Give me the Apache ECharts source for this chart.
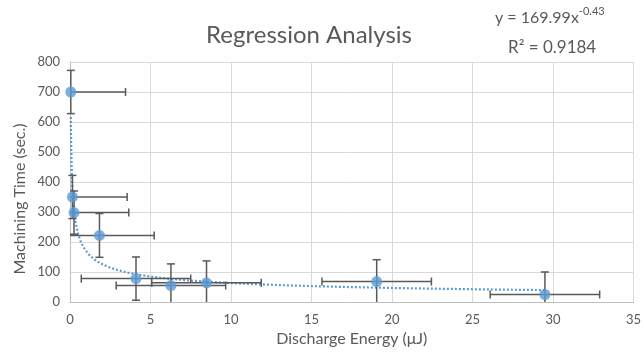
<!DOCTYPE html>
<html>
<head>
<meta charset="utf-8">
<script src="https://cdn.jsdelivr.net/npm/echarts@6/dist/echarts.min.js"></script>
<style>
  html, body { margin: 0; padding: 0; background: #fff; }
  #chart { width: 644px; height: 352px; }
</style>
</head>
<body>
<div id="chart"></div>
<script>
// values
const energy = [0.05, 0.15, 0.25, 1.83, 4.1, 6.27, 8.48, 19.05, 29.5];
const machTime = [700, 350, 298, 222, 78, 55, 64, 68, 25];
const energyErr = [3.4, 3.4, 3.4, 3.4, 3.4, 3.4, 3.4, 3.4, 3.4];
const timeErr = [72, 72, 72, 73, 72, 72, 73, 73, 75];

// power trendline as printed on the chart
const fitA = 169.99;
const fitB = -0.43;
const fitR2 = 0.9184;

const xTicks = [0, 5, 10, 15, 20, 25, 30, 35];
const yTicks = [0, 100, 200, 300, 400, 500, 600, 700, 800];

const xMin = xTicks[0], xMax = xTicks[xTicks.length - 1];
const yMin = yTicks[0], yMax = yTicks[yTicks.length - 1];

const textColor = "#595959";
const font = "Lato, 'Liberation Sans', sans-serif";

const points = energy.map((x, i) => [x, machTime[i]]);
const errRows = energy.map((x, i) => [x, machTime[i], energyErr[i], timeErr[i]]);

// trendline sampled between smallest and largest energy
const xLo = Math.min(...energy), xHi = Math.max(...energy);
const trend = [];
for (let k = 0; k <= 300; k++) {
  const x = xLo * Math.pow(xHi / xLo, k / 300);
  trend.push([x, fitA * Math.pow(x, fitB)]);
}

function errorBars(params, api) {
  const x = api.value(0), y = api.value(1), dx = api.value(2), dy = api.value(3);
  const clampX = (v) => Math.min(xMax, Math.max(xMin, v));
  const clampY = (v) => Math.min(yMax, Math.max(yMin, v));
  const style = { stroke: "#595959", lineWidth: 1.5 };
  const cap = 4;
  const children = [];
  const c = api.coord([x, y]);
  const left = api.coord([clampX(x - dx), y]);
  const right = api.coord([clampX(x + dx), y]);
  const top = api.coord([x, clampY(y + dy)]);
  const bottom = api.coord([x, clampY(y - dy)]);
  children.push({ type: "line", shape: { x1: left[0], y1: c[1], x2: right[0], y2: c[1] }, style });
  children.push({ type: "line", shape: { x1: c[0], y1: top[1], x2: c[0], y2: bottom[1] }, style });
  if (x - dx >= xMin) children.push({ type: "line", shape: { x1: left[0], y1: c[1] - cap, x2: left[0], y2: c[1] + cap }, style });
  if (x + dx <= xMax) children.push({ type: "line", shape: { x1: right[0], y1: c[1] - cap, x2: right[0], y2: c[1] + cap }, style });
  if (y + dy <= yMax) children.push({ type: "line", shape: { x1: c[0] - cap, y1: top[1], x2: c[0] + cap, y2: top[1] }, style });
  if (y - dy >= yMin) children.push({ type: "line", shape: { x1: c[0] - cap, y1: bottom[1], x2: c[0] + cap, y2: bottom[1] }, style });
  return { type: "group", children };
}

const chart = echarts.init(document.getElementById("chart"), null, { renderer: "canvas" });

const axisCommon = {
  axisLine: { show: true, lineStyle: { color: "#bfbfbf", width: 1 } },
  axisTick: { show: false },
  splitLine: { show: true, lineStyle: { color: "#d9d9d9", width: 1 } },
  axisLabel: { color: textColor, fontSize: 13, fontFamily: font },
};

chart.setOption({
  animation: false,
  backgroundColor: "#fff",
  textStyle: { fontFamily: font },
  title: {
    text: "Regression Analysis",
    left: 304,
    top: 18,
    textAlign: "center",
    textStyle: { color: textColor, fontSize: 24, fontWeight: "normal", fontFamily: font },
  },
  graphic: [
    {
      type: "text",
      left: 495,
      top: 6,
      style: {
        text: "{b|y = 169.99x}{s|" + fitB.toFixed(2) + "}",
        rich: {
          b: { fontSize: 16, fill: textColor, fontFamily: font, verticalAlign: "bottom", lineHeight: 20 },
          s: { fontSize: 11, fill: textColor, fontFamily: font, verticalAlign: "top", lineHeight: 20, padding: [0, 0, 8, 0] },
        },
      },
    },
    {
      type: "text",
      left: 508,
      top: 39,
      style: { text: "R² = " + fitR2, fontSize: 17, fill: textColor, fontFamily: font },
    },
    {
      // y axis title, placed like the reference (a bit below the plot middle)
      type: "text",
      x: 20,
      y: 199,
      rotation: Math.PI / 2,
      style: {
        text: "Machining Time (sec.)",
        fontSize: 16,
        fill: textColor,
        fontFamily: font,
        align: "center",
        verticalAlign: "middle",
      },
    },
  ],
  grid: { left: 70, right: 9, top: 62, bottom: 50 },
  xAxis: {
    type: "value",
    min: xMin,
    max: xMax,
    interval: 5,
    name: "Discharge Energy (μJ)",
    nameLocation: "middle",
    nameGap: 29,
    nameTextStyle: { color: textColor, fontSize: 16, fontFamily: font },
    ...axisCommon,
    axisLabel: { ...axisCommon.axisLabel, margin: 11 },
  },
  yAxis: {
    type: "value",
    min: yMin,
    max: yMax,
    interval: 100,
    ...axisCommon,
    axisLabel: { ...axisCommon.axisLabel, margin: 10 },
  },
  series: [
    {
      type: "line",
      data: trend,
      showSymbol: false,
      symbol: "none",
      lineStyle: { color: "#5b9bd5", width: 2.2, type: [2, 2], cap: "butt" },
      z: 3,
    },
    {
      type: "custom",
      renderItem: errorBars,
      data: errRows,
      encode: { x: 0, y: 1 },
      z: 4,
    },
    {
      type: "scatter",
      data: points,
      symbol: "circle",
      symbolSize: 11,
      itemStyle: { color: "#5b9bd5" },
      z: 5,
    },
  ],
});
</script>
</body>
</html>
